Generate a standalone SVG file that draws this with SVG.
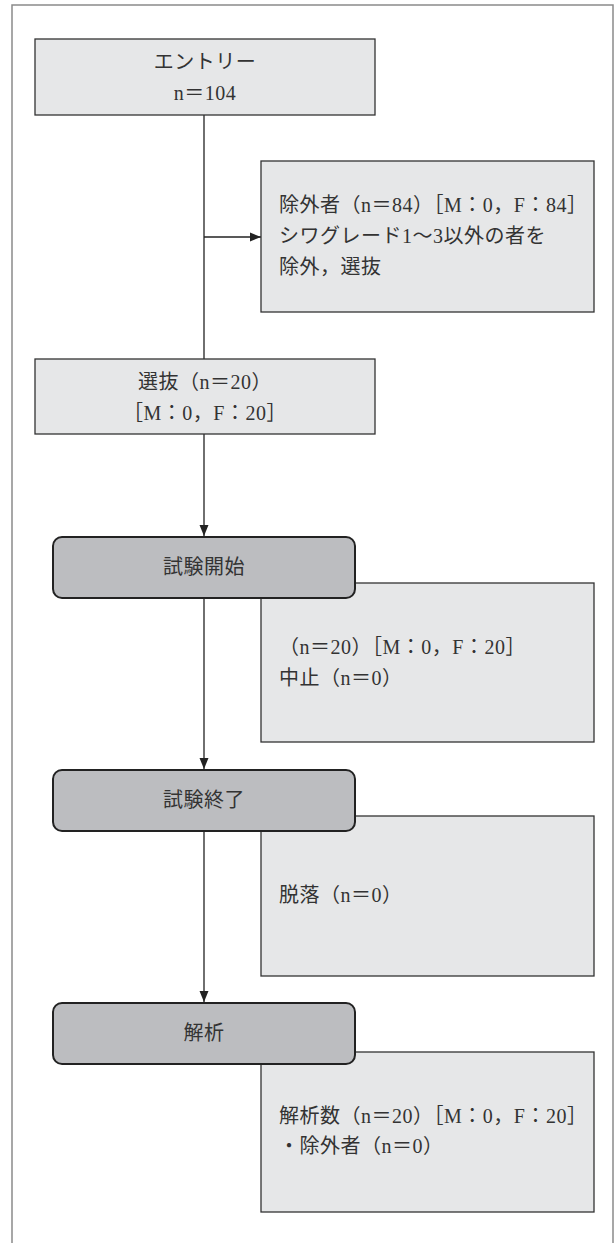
<svg xmlns="http://www.w3.org/2000/svg" width="616" height="1243" viewBox="0 0 616 1243">
<style>
.frame{fill:none;stroke:#8a8a8a;stroke-width:1.5}
.box{fill:#e6e7e8;stroke:#333;stroke-width:1.3}
.rr{fill:#bcbdc0;stroke:#222;stroke-width:2}
.t{font-family:"Liberation Serif","Noto Sans CJK JP",serif;font-size:20px;letter-spacing:0.5px;fill:#333}
.c{text-anchor:middle}
.conn{stroke:#222;stroke-width:1.3;fill:none}
</style>
<defs>
<marker id="ah" markerUnits="userSpaceOnUse" markerWidth="12" markerHeight="10" refX="11" refY="5" orient="auto">
<path d="M0,0.5 L11,5 L0,9.5 Z" fill="#222"/>
</marker>
</defs>
<rect class="frame" x="12" y="5" width="601" height="1260"/>
<g id="connectors">
<line class="conn" x1="204" y1="115" x2="204" y2="359"/>
<line class="conn" x1="204" y1="237" x2="261" y2="237" marker-end="url(#ah)"/>
<line class="conn" x1="204" y1="434" x2="204" y2="536" marker-end="url(#ah)"/>
<line class="conn" x1="204" y1="598" x2="204" y2="769" marker-end="url(#ah)"/>
<line class="conn" x1="204" y1="831" x2="204" y2="1002" marker-end="url(#ah)"/>
</g>
<g id="entry">
<rect class="box" x="35" y="39" width="340" height="76"/>
<text class="t c" x="205" y="69">エントリー</text>
<text class="t c" x="205" y="100">n＝104</text>
</g>
<g id="excluded">
<rect class="box" x="261" y="161" width="333" height="151"/>
<text class="t" x="279" y="212">除外者（n＝84）［M：0，F：84］</text>
<text class="t" x="279" y="243">シワグレード1～3以外の者を</text>
<text class="t" x="279" y="274">除外，選抜</text>
</g>
<g id="selected">
<rect class="box" x="35" y="359" width="340" height="75"/>
<text class="t c" x="205" y="389">選抜（n＝20）</text>
<text class="t c" x="205" y="420">［M：0，F：20］</text>
</g>
<g id="start-note">
<rect class="box" x="261" y="583" width="333" height="159"/>
<text class="t" x="279" y="654">（n＝20）［M：0，F：20］</text>
<text class="t" x="279" y="685">中止（n＝0）</text>
</g>
<g id="start">
<rect class="rr" x="53" y="537" width="302" height="61" rx="9"/>
<text class="t c" x="204" y="574">試験開始</text>
</g>
<g id="end-note">
<rect class="box" x="261" y="816" width="333" height="160"/>
<text class="t" x="279" y="902">脱落（n＝0）</text>
</g>
<g id="end">
<rect class="rr" x="53" y="770" width="302" height="61" rx="9"/>
<text class="t c" x="204" y="807">試験終了</text>
</g>
<g id="analysis-note">
<rect class="box" x="261" y="1052" width="333" height="160"/>
<text class="t" x="279" y="1123">解析数（n＝20）［M：0，F：20］</text>
<text class="t" x="279" y="1153">・除外者（n＝0）</text>
</g>
<g id="analysis">
<rect class="rr" x="53" y="1003" width="302" height="61" rx="9"/>
<text class="t c" x="204" y="1040">解析</text>
</g>
</svg>
